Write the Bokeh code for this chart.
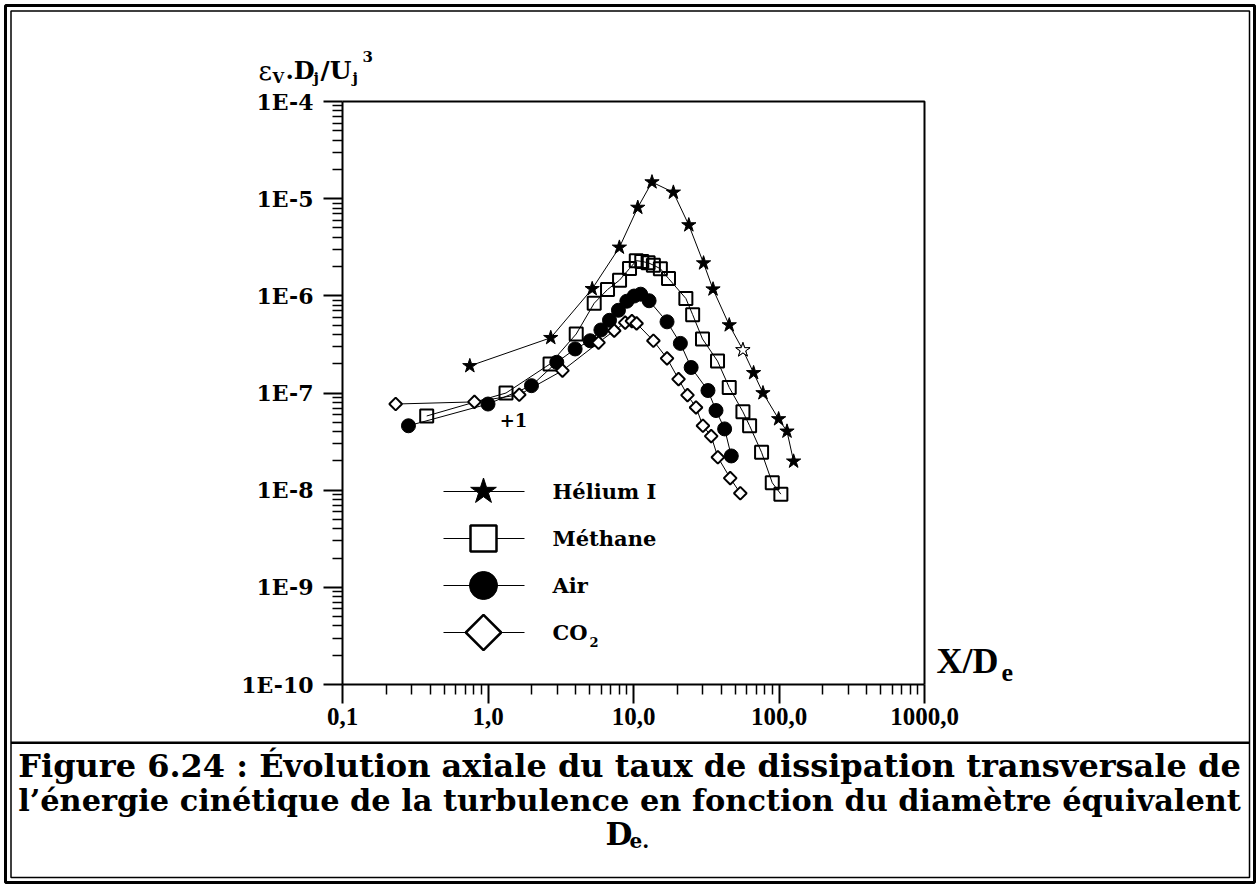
import numpy as np
from bokeh.plotting import figure
from bokeh.models import (Range1d, FixedTicker, CustomJSTickFormatter, Label, BoxAnnotation)
from bokeh.embed import file_html
from bokeh.resources import INLINE

# ---------------- data ----------------
helium_x = [0.75, 2.7, 5.2, 8.0, 10.7, 13.4, 18.8, 24.0, 30.3, 35.2, 45.5, 56.5, 66.9, 77.6, 99.4, 113.5, 126.0]
helium_y = [1.9e-7, 3.7e-7, 1.18e-6, 3.15e-6, 8.1e-6, 1.48e-5, 1.16e-5, 5.35e-6, 2.17e-6, 1.17e-6,
            5.0e-7, 2.77e-7, 1.61e-7, 1.0e-7, 5.4e-8, 4.03e-8, 1.98e-8]
helium_open_point = 11   # the hollow star

methane_x = [0.379, 1.33, 2.67, 4.04, 5.37, 6.63, 8.02, 9.39, 10.45, 11.4, 12.6, 13.7, 15.3, 17.4,
             22.9, 25.5, 29.8, 37.8, 45.5, 56.5, 62.8, 75.9, 89.9, 103.0]
methane_y = [5.8e-8, 1.0e-7, 1.99e-7, 4.05e-7, 8.4e-7, 1.16e-6, 1.45e-6, 1.91e-6, 2.3e-6, 2.26e-6,
             2.19e-6, 2.07e-6, 1.9e-6, 1.51e-6, 9.4e-7, 6.4e-7, 3.6e-7, 2.13e-7, 1.14e-7, 6.4e-8,
             4.6e-8, 2.45e-8, 1.19e-8, 9.1e-9]

air_x = [0.284, 1.0, 1.99, 2.97, 3.97, 5.04, 5.97, 6.84, 7.88, 9.0, 10.1, 11.2, 12.8, 17.0, 21.0,
         24.9, 32.5, 36.9, 42.3, 47.0]
air_y = [4.6e-8, 7.7e-8, 1.19e-7, 2.07e-7, 2.84e-7, 3.45e-7, 4.45e-7, 5.6e-7, 7.1e-7, 8.8e-7,
         9.95e-7, 1.04e-6, 8.9e-7, 5.4e-7, 3.24e-7, 1.83e-7, 1.06e-7, 6.6e-8, 4.27e-8, 2.25e-8]

co2_x = [0.232, 0.807, 1.64, 3.25, 5.75, 7.37, 8.77, 9.75, 10.5, 13.7, 17.0, 20.4, 23.5, 26.9,
         30.0, 34.2, 38.0, 46.2, 54.2]
co2_y = [7.7e-8, 8.1e-8, 9.6e-8, 1.7e-7, 3.3e-7, 4.38e-7, 5.3e-7, 5.5e-7, 5.2e-7, 3.45e-7,
         2.27e-7, 1.39e-7, 9.5e-8, 7.1e-8, 4.6e-8, 3.6e-8, 2.18e-8, 1.33e-8, 9.3e-9]

x_tick_exps = [-1, 0, 1, 2, 3]
x_tick_labels = ["0,1", "1,0", "10,0", "100,0", "1000,0"]
y_tick_exps = [-10, -9, -8, -7, -6, -5, -4]
y_tick_labels = ["1E-10", "1E-9", "1E-8", "1E-7", "1E-6", "1E-5", "1E-4"]

legend_names = ["Hélium I", "Méthane", "Air", "CO"]
caption_lines = ["Figure 6.24 : Évolution axiale du taux de dissipation transversale de",
                 "l\u2019énergie cinétique de la turbulence en fonction du diamètre équivalent"]

# ---------------- layout ----------------
W, H = 1258, 886
FL, FR, FT, FB = 342, 924, 101, 684      # chart box in canvas pixels
X_MIN, X_MAX, Y_MIN, Y_MAX = 0.1, 1000.0, 1e-10, 1e-4
lx0, lx1 = np.log10(X_MIN), np.log10(X_MAX)
ly0, ly1 = np.log10(Y_MIN), np.log10(Y_MAX)
kx = (lx1 - lx0) / (FR - FL)             # decades per pixel
ky = (ly1 - ly0) / (FB - FT)

# the frame covers the whole canvas; ranges are extended so that the chart box sits at FL..FR / FT..FB
x_range = Range1d(10 ** (lx0 - FL * kx), 10 ** (lx1 + (W - FR) * kx))
y_range = Range1d(10 ** (ly0 - (H - FB) * ky), 10 ** (ly1 + FT * ky))

p = figure(width=W, height=H, x_axis_type="log", y_axis_type="log",
           x_range=x_range, y_range=y_range, title=None,
           output_backend="svg", toolbar_location=None,
           min_border_left=0, min_border_right=0, min_border_top=0, min_border_bottom=0)
p.grid.visible = False
p.background_fill_color = "white"
p.border_fill_color = "white"
p.outline_line_color = None


def px_x(px):
    return 10 ** (lx0 + (px - FL) * kx)


def px_y(py):
    return 10 ** (ly1 - (py - FT) * ky)


# axes (fixed on the chart box)
xt = [10.0 ** e for e in x_tick_exps]
yt = [10.0 ** e for e in y_tick_exps]
x_minor = [m * 10.0 ** e for e in x_tick_exps[:-1] for m in range(2, 10)]
y_minor = [m * 10.0 ** e for e in y_tick_exps[:-1] for m in range(2, 10)]
p.xaxis.ticker = FixedTicker(ticks=xt, minor_ticks=x_minor)
p.yaxis.ticker = FixedTicker(ticks=yt, minor_ticks=y_minor)
fmt_code = """
const e = Math.round(Math.log10(tick));
const i = exps.indexOf(e);
return i >= 0 ? labs[i] : "";
"""
p.xaxis.formatter = CustomJSTickFormatter(args=dict(exps=x_tick_exps, labs=x_tick_labels), code=fmt_code)
p.yaxis.formatter = CustomJSTickFormatter(args=dict(exps=y_tick_exps, labs=y_tick_labels), code=fmt_code)
p.xaxis.fixed_location = Y_MIN
p.yaxis.fixed_location = X_MIN
p.xaxis.bounds = (X_MIN, X_MAX)
p.yaxis.bounds = (Y_MIN, Y_MAX)

for ax in (p.xaxis[0], p.yaxis[0]):
    ax.axis_line_width = 2
    ax.major_tick_line_width = 2
    ax.minor_tick_line_width = 1.5
    ax.major_tick_in = 0
    ax.minor_tick_in = 0
    ax.major_tick_out = 19
    ax.minor_tick_out = 10
    ax.major_label_text_color = "black"
    ax.major_label_text_font_style = "bold"
p.yaxis.major_label_text_font = "DejaVu Serif"
p.yaxis.major_label_text_font_size = "22px"
p.yaxis.major_label_standoff = 10
p.xaxis.major_label_text_font = "Liberation Serif"
p.xaxis.major_label_text_font_size = "25px"
p.xaxis.major_label_standoff = 4

# top and right sides of the chart box
p.line([X_MIN, X_MAX, X_MAX], [Y_MAX, Y_MAX, Y_MIN], line_color="black", line_width=2)

# ---------------- series ----------------
LW = 1
p.line(helium_x, helium_y, line_color="black", line_width=LW)
p.scatter(helium_x, helium_y, marker="star", size=15, fill_color="black", line_color="black")
p.scatter([helium_x[helium_open_point]], [helium_y[helium_open_point]], marker="star", size=15,
          fill_color="white", line_color="black", line_width=1)

p.line(methane_x, methane_y, line_color="black", line_width=LW)
p.scatter(methane_x, methane_y, marker="square", size=13, fill_color="white", fill_alpha=0.0,
          line_color="black", line_width=2)

p.line(air_x, air_y, line_color="black", line_width=LW)
p.scatter(air_x, air_y, marker="circle", size=14, fill_color="black", line_color="black")

p.line(co2_x, co2_y, line_color="black", line_width=LW)
p.scatter(co2_x, co2_y, marker="square", angle=np.pi / 4, size=9, fill_color="white",
          line_color="black", line_width=2)

# ---------------- legend (drawn inside the chart) ----------------
leg_rows = [491, 538, 585, 632]
leg_specs = [dict(marker="star", size=27, fill_color="black", line_width=1, angle=0.0),
             dict(marker="square", size=26, fill_color="white", line_width=2.5, angle=0.0),
             dict(marker="circle", size=28, fill_color="black", line_width=1, angle=0.0),
             dict(marker="square", size=25, fill_color="white", line_width=2.5, angle=np.pi / 4)]
for row, spec in zip(leg_rows, leg_specs):
    yy = px_y(row)
    p.line([px_x(443), px_x(524)], [yy, yy], line_color="black", line_width=1)
    p.scatter([px_x(483)], [yy], line_color="black", **spec)


# ---------------- texts ----------------
def lab(text, X, Y, size, font="DejaVu Serif", bold=True, align="left", baseline="middle"):
    p.add_layout(Label(x=X, y=H - Y, x_units="screen", y_units="screen", text=text,
                       text_font=font, text_font_size=f"{size}px",
                       text_font_style="bold" if bold else "normal",
                       text_align=align, text_baseline=baseline, text_color="black"))


for name, row in zip(legend_names, leg_rows):
    lab(name, 552, row, 21)
lab("2", 589, 641, 13)

lab("+1", 513, 419, 18, align="center")

# y-axis title  eps_V . D_j / U_j ^3
lab("\u03b5", 258, 70, 26, bold=False, baseline="alphabetic")
lab("V", 272, 77, 15, baseline="alphabetic")
lab(".D", 285, 70, 24, baseline="alphabetic")
lab("j", 313, 77, 15, baseline="alphabetic")
lab("/U", 320, 70, 25, baseline="alphabetic")
lab("j", 352, 77, 15, baseline="alphabetic")
lab("3", 362, 56, 15, baseline="alphabetic")

# x-axis title X/De
lab("X/D", 936, 660, 36, font="Liberation Serif")
lab("e", 1001, 672, 26, font="Liberation Serif")

# caption
lab(caption_lines[0], 629, 765, 32, align="center")
lab(caption_lines[1], 629, 799, 30.4, align="center")
lab("D", 605, 833, 31)
lab("e.", 629, 840, 20)


# ---------------- page frame ----------------
def box(l, r, t, b, lw, fill=None):
    p.add_layout(BoxAnnotation(left=px_x(l), right=px_x(r), top=px_y(t), bottom=px_y(b),
                               line_color="black" if fill is None else None, line_width=lw,
                               line_alpha=1.0,
                               fill_color=fill if fill else "white",
                               fill_alpha=1.0 if fill else 0.0, level="overlay"))


box(5, 1254, 5, 882, 3)
box(10.5, 1249, 10.5, 877, 1.5)
box(10.5, 1249, 741, 743.5, 0, fill="black")

open("out.html", "w").write(file_html(p, INLINE))
